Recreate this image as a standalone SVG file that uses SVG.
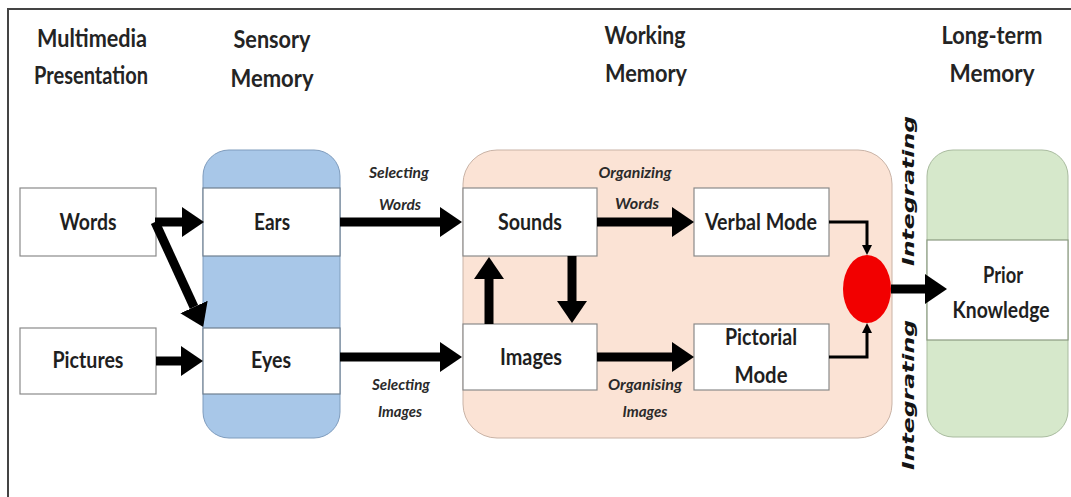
<svg xmlns="http://www.w3.org/2000/svg" width="1071" height="497" viewBox="0 0 1071 497">
  <style>
    text { font-family: Lato, "Open Sans", "Liberation Sans", sans-serif; text-anchor: middle; }
    .title { font-size: 24px; font-weight: bold; fill: #242424; }
    .label { font-size: 22px; font-weight: bold; fill: #1f1f1f; }
    .step { font-size: 15px; font-style: italic; font-weight: bold; fill: #2a2a2a; }
    .integ { font-family: "DejaVu Sans", Verdana, sans-serif; font-size: 15px; font-style: italic; font-weight: bold; fill: #141414; }
    .box { fill: #ffffff; stroke: #8a8a8a; stroke-width: 1.2; }
    .band { fill: #ffffff; stroke: #6f7f8f; stroke-width: 1.2; }
    .thick { fill: none; stroke: #000; stroke-width: 9; marker-end: url(#head); }
    .thin { fill: none; stroke: #000; stroke-width: 3; marker-end: url(#tip); }
  </style>
  <defs>
    <marker id="head" markerUnits="userSpaceOnUse" markerWidth="22" markerHeight="30" refX="0" refY="15" orient="auto" viewBox="0 0 22 30">
      <path d="M0,0 L22,15 L0,30 Z" fill="#000"/>
    </marker>
    <marker id="tip" markerUnits="userSpaceOnUse" markerWidth="10" markerHeight="10" refX="0" refY="5" orient="auto" viewBox="0 0 10 10">
      <path d="M0,0 L10,5 L0,10 Z" fill="#000"/>
    </marker>
  </defs>

  <rect width="1071" height="497" fill="#ffffff"/>
  <!-- outer frame (top and left edges) -->
  <path d="M8,497 L8,9 L1071,9" fill="none" stroke="#444" stroke-width="2"/>

  <!-- column headings -->
  <g id="headings">
    <text class="title" x="92" y="47" textLength="110" lengthAdjust="spacingAndGlyphs">Multimedia</text>
    <text class="title" x="91" y="84" textLength="114" lengthAdjust="spacingAndGlyphs">Presentation</text>
    <text class="title" x="272" y="48" textLength="77" lengthAdjust="spacingAndGlyphs">Sensory</text>
    <text class="title" x="272" y="87" textLength="83" lengthAdjust="spacingAndGlyphs">Memory</text>
    <text class="title" x="645" y="44" textLength="81" lengthAdjust="spacingAndGlyphs">Working</text>
    <text class="title" x="646" y="82" textLength="82" lengthAdjust="spacingAndGlyphs">Memory</text>
    <text class="title" x="992" y="44" textLength="101" lengthAdjust="spacingAndGlyphs">Long-term</text>
    <text class="title" x="992" y="82" textLength="85" lengthAdjust="spacingAndGlyphs">Memory</text>
  </g>

  <!-- sensory memory column -->
  <g id="sensory-memory">
    <rect x="203" y="150" width="137" height="288" rx="26" fill="#a8c7e8" stroke="#7f9cbd" stroke-width="1"/>
  </g>
  <!-- working memory area -->
  <g id="working-memory">
    <rect x="463" y="150" width="429" height="288" rx="34" fill="#fbe3d5" stroke="#c9b3a6" stroke-width="1"/>
  </g>
  <!-- long-term memory column -->
  <g id="long-term-memory">
    <rect x="927" y="150" width="141" height="287" rx="26" fill="#d6e8cb" stroke="#a9bb9f" stroke-width="1"/>
  </g>

  <g id="words">
    <rect class="box" x="20" y="188" width="136" height="68"/>
    <text class="label" x="88" y="230" textLength="57" lengthAdjust="spacingAndGlyphs">Words</text>
  </g>
  <g id="pictures">
    <rect class="box" x="20" y="328" width="136" height="66"/>
    <text class="label" x="88" y="368" textLength="71" lengthAdjust="spacingAndGlyphs">Pictures</text>
  </g>
  <g id="ears">
    <rect class="band" x="203" y="188" width="137" height="68"/>
    <text class="label" x="272" y="230" textLength="36" lengthAdjust="spacingAndGlyphs">Ears</text>
  </g>
  <g id="eyes">
    <rect class="band" x="203" y="328" width="137" height="66"/>
    <text class="label" x="271" y="368" textLength="40" lengthAdjust="spacingAndGlyphs">Eyes</text>
  </g>
  <g id="sounds">
    <rect class="box" x="463" y="188" width="134" height="68"/>
    <text class="label" x="530" y="230" textLength="64" lengthAdjust="spacingAndGlyphs">Sounds</text>
  </g>
  <g id="images">
    <rect class="box" x="463" y="324" width="134" height="66"/>
    <text class="label" x="531" y="365" textLength="62" lengthAdjust="spacingAndGlyphs">Images</text>
  </g>
  <g id="verbal-mode">
    <rect class="box" x="694" y="188" width="135" height="68"/>
    <text class="label" x="761" y="230" textLength="112" lengthAdjust="spacingAndGlyphs">Verbal Mode</text>
  </g>
  <g id="pictorial-mode">
    <rect class="box" x="694" y="324" width="135" height="66"/>
    <text class="label" x="761" y="345" textLength="72" lengthAdjust="spacingAndGlyphs">Pictorial</text>
    <text class="label" x="761" y="383" textLength="53" lengthAdjust="spacingAndGlyphs">Mode</text>
  </g>
  <g id="prior-knowledge">
    <rect x="927" y="240" width="141" height="100" fill="#ffffff" stroke="#8a9a80" stroke-width="1.2"/>
    <text class="label" x="1003" y="283" textLength="40" lengthAdjust="spacingAndGlyphs">Prior</text>
    <text class="label" x="1001" y="318" textLength="97" lengthAdjust="spacingAndGlyphs">Knowledge</text>
  </g>
  <g id="integration-point">
    <ellipse cx="867" cy="289" rx="24" ry="34" fill="#f20000"/>
  </g>

  <!-- connectors -->
  <g id="connectors">
    <path class="thick" d="M155,222 L182,222"/>
    <path class="thick" d="M155,222 L194,307"/>
    <path class="thick" d="M156,361 L181,361"/>
    <path class="thick" d="M340,222 L440,222"/>
    <path class="thick" d="M340,357 L440,357"/>
    <path class="thick" d="M597,222 L672,222"/>
    <path class="thick" d="M597,357 L672,357"/>
    <path class="thick" d="M489,324 L489,279"/>
    <path class="thick" d="M572,256 L572,301"/>
    <path class="thick" d="M891,289 L925,289"/>
    <path class="thin" d="M829,222 L867,222 L867,245"/>
    <path class="thin" d="M829,357 L867,357 L867,333"/>
  </g>

  <!-- connector labels -->
  <g id="connector-labels">
    <text class="step" x="399" y="178" textLength="60" lengthAdjust="spacingAndGlyphs">Selecting</text>
    <text class="step" x="400" y="210" textLength="42" lengthAdjust="spacingAndGlyphs">Words</text>
    <text class="step" x="401" y="390" textLength="58" lengthAdjust="spacingAndGlyphs">Selecting</text>
    <text class="step" x="400" y="417" textLength="44" lengthAdjust="spacingAndGlyphs">Images</text>
    <text class="step" x="635" y="178" textLength="73" lengthAdjust="spacingAndGlyphs">Organizing</text>
    <text class="step" x="637" y="209" textLength="44" lengthAdjust="spacingAndGlyphs">Words</text>
    <text class="step" x="645" y="390" textLength="74" lengthAdjust="spacingAndGlyphs">Organising</text>
    <text class="step" x="645" y="417" textLength="45" lengthAdjust="spacingAndGlyphs">Images</text>
    <text class="integ" transform="translate(914,191) rotate(-90)" textLength="150" lengthAdjust="spacingAndGlyphs">Integrating</text>
    <text class="integ" transform="translate(914,395) rotate(-90)" textLength="150" lengthAdjust="spacingAndGlyphs">Integrating</text>
  </g>
</svg>
